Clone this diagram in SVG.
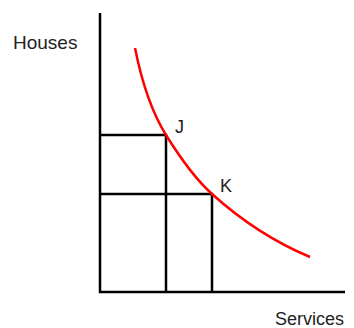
<svg xmlns="http://www.w3.org/2000/svg" width="354" height="328" viewBox="0 0 354 328">
<style>
.ax{stroke:#000;stroke-width:2.5;fill:none}
.cv{stroke:#ff0000;stroke-width:2.5;fill:none}
text{font-family:"Liberation Sans",Arial,sans-serif;font-size:18px;fill:#222}
</style>
<rect width="354" height="328" fill="#fff"/>
<g id="connectors">
<path class="ax" d="M100,13 V292 H345"/>
<path class="ax" d="M100,135 H166 V292"/>
<path class="ax" d="M100,194 H212 V292"/>
<path class="cv" d="M135,48 C141,78 149.6,108.7 166,135 C179.2,156.2 193.4,177.3 212,194 C240.8,220 274.2,242 310,257"/>
</g>
<g id="labels">
<text x="13" y="49" style="font-size:19px">Houses</text>
<text x="275" y="325">Services</text>
<text x="175" y="133">J</text>
<text x="220" y="192">K</text>
</g>
</svg>
